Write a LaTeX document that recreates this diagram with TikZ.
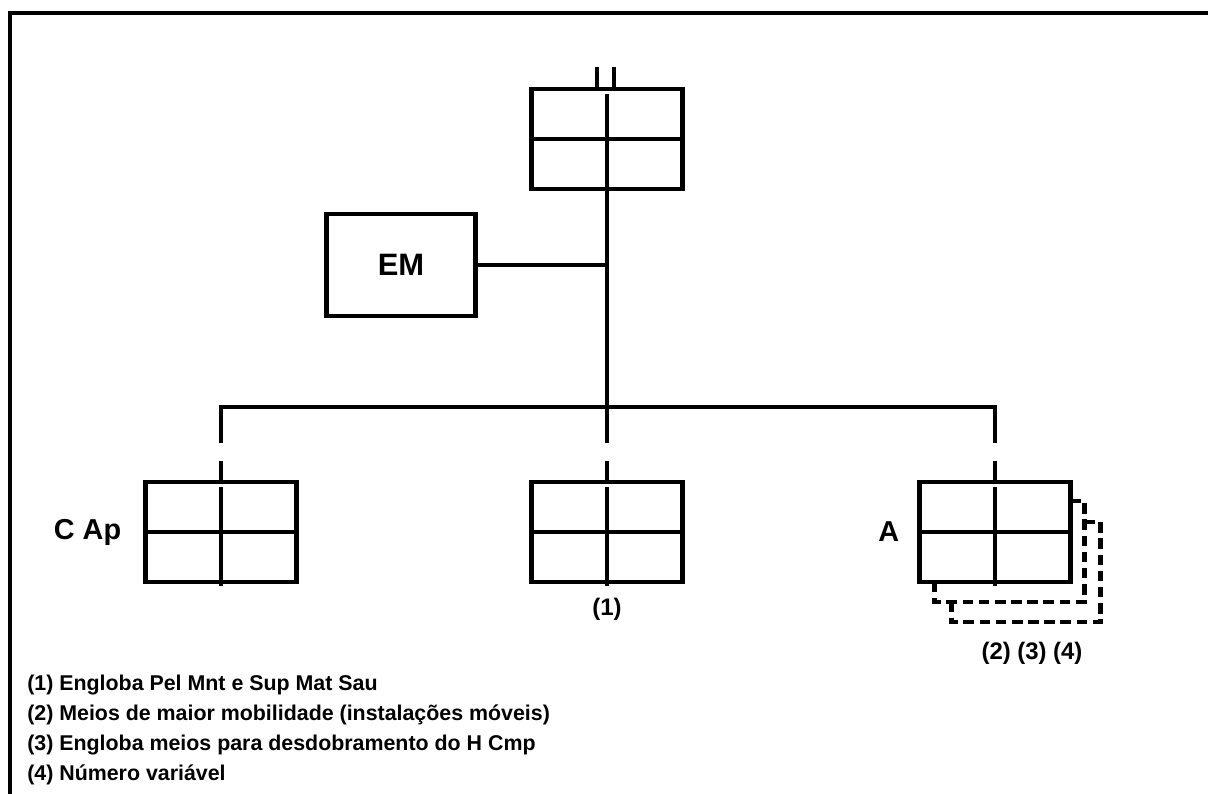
\documentclass[tikz,border=0pt]{standalone}
\usepackage{fontspec}
\setmainfont{Liberation Sans}
\usepackage{tikz}
\usetikzlibrary{
  positioning,
  calc,
}
\tikzset{
  unitbox/.style={
    rectangle, draw, line width=3.3pt, outer sep=0pt, inner sep=0pt,
    minimum width=3.775cm, minimum height=2.5cm,
  },
  embox/.style={
    rectangle, draw, line width=3.3pt, outer sep=0pt, inner sep=0pt,
    minimum width=3.72cm, minimum height=2.55cm,
    font=\bfseries\fontsize{22}{26}\selectfont,
  },
  grid/.style={line width=2.2pt},
  link/.style={line width=2.3pt},
  shadowline/.style={line width=3pt, dash pattern=on 7.5pt off 4pt},
  frame/.style={line width=3pt},
  sidelabel/.style={inner sep=0pt, font=\bfseries\fontsize{20.5}{24}\selectfont},
  notelabel/.style={inner sep=0pt, font=\bfseries\fontsize{17}{20}\selectfont},
  legend/.style={inner sep=0pt, anchor=west, font=\bfseries\fontsize{15.2}{18}\selectfont},
}

\begin{document}
\begin{tikzpicture}[x=0.025cm, y=-0.025cm]
\useasboundingbox (0,0) rectangle (1208,794);

% Outer frame
\draw[frame] (10,794) -- (10,13) -- (1208,13);

% Units
\node[unitbox] (cmd) at (607,139) {};
\node[embox] (em) at (401,265) {EM};
\node[unitbox] (cap) at (221,532) {};
\node[unitbox] (mid) at (607,532) {};
\node[unitbox] (aux) at (995,532) {};

% Inner grid of the unit boxes
\foreach \b in {cmd, cap, mid, aux} {
  \draw[grid] (\b.west) -- (\b.east);
  \draw[grid] ($(\b.north)+(0,5)$) -- ($(\b.south)+(0,4)$);
}

% Dashed copies behind A
\draw[shadowline] ($(aux.north east)+(0,19)$) -| ($(aux.south east)+(14,20)$) -| ($(aux.south west)+(15,0)$);
\draw[shadowline] ($(aux.north east)+(14,40)$) -| ($(aux.south east)+(30,40)$) -| ($(aux.south west)+(32,20)$);

% Connectors
\coordinate (busy) at (0,407);
\coordinate (dropy) at (0,443);
\draw[link] (cmd.south) -- (cmd.south |- dropy);
\draw[link] (em.east) -- (em.east -| cmd.south);
\draw[link] (cap.north |- dropy) -- (cap.north |- busy) -- (aux.north |- busy) -- (aux.north |- dropy);

% Short stubs above the boxes
\draw[link] ($(cmd.north)+(-10,0)$) -- ++(0,-22);
\draw[link] ($(cmd.north)+(7,0)$) -- ++(0,-22);
\foreach \b in {cap, mid, aux}
  \draw[link] (\b.north) -- ++(0,-21);

% Labels
\node[sidelabel, left=0.6cm of cap] (caplab) {C Ap};
\node[sidelabel, left=0.5cm of aux] (auxlab) {A};
\node[notelabel, below=0.4cm of mid] (midnote) {(1)};
\node[notelabel, anchor=north] (auxnote) at ($(aux.south)+(37,60)$) {(2) (3) (4)};

% Notes
\foreach \i/\txt in {1/Engloba Pel Mnt e Sup Mat Sau,
                     2/Meios de maior mobilidade (instalações móveis),
                     3/Engloba meios para desdobramento do H Cmp,
                     4/Número variável}
  \node[legend] (note\i) at (27,{655+30*\i}) {(\i) \txt};

\end{tikzpicture}
\end{document}
